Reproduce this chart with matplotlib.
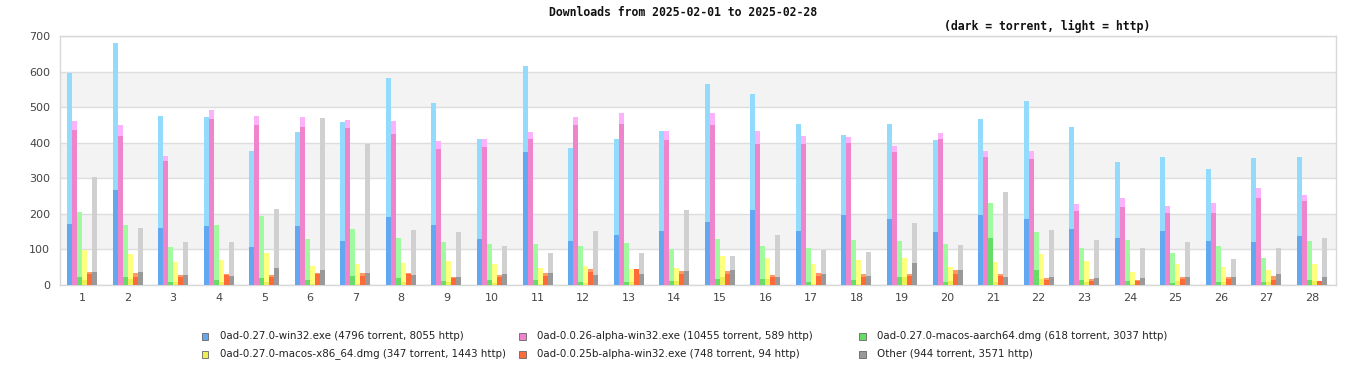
import matplotlib
matplotlib.use("Agg")
import matplotlib.pyplot as plt
from matplotlib.patches import Rectangle
import numpy as np

days = list(range(1, 29))

series_names = [
    "0ad-0.27.0-win32.exe (4796 torrent, 8055 http)",
    "0ad-0.0.26-alpha-win32.exe (10455 torrent, 589 http)",
    "0ad-0.27.0-macos-aarch64.dmg (618 torrent, 3037 http)",
    "0ad-0.27.0-macos-x86_64.dmg (347 torrent, 1443 http)",
    "0ad-0.0.25b-alpha-win32.exe (748 torrent, 94 http)",
    "Other (944 torrent, 3571 http)",
]

win32_torrent = [171, 267, 160, 166, 107, 166, 124, 191, 169, 129, 374, 124, 141, 152,
                 177, 211, 152, 197, 186, 149, 197, 186, 157, 132, 152, 124, 121, 138]
win32_http = [426, 413, 315, 306, 270, 264, 334, 391, 343, 281, 242, 261, 269, 281,
              388, 326, 301, 225, 267, 259, 270, 331, 287, 214, 208, 202, 236, 222]

a26_torrent = [436, 419, 349, 467, 450, 444, 441, 424, 382, 388, 410, 450, 453, 408,
               450, 396, 396, 399, 374, 410, 360, 354, 208, 219, 202, 202, 245, 236]
a26_http = [25, 31, 14, 25, 25, 28, 23, 37, 23, 22, 20, 22, 30, 25,
            33, 37, 23, 17, 17, 17, 17, 23, 20, 26, 20, 28, 28, 17]

arm_torrent = [22, 22, 8, 14, 20, 14, 25, 20, 11, 14, 14, 8, 8, 11,
               17, 17, 8, 14, 22, 8, 132, 42, 14, 11, 6, 8, 8, 14]
arm_http = [183, 147, 99, 155, 174, 115, 132, 112, 110, 101, 101, 102, 110, 90,
            112, 93, 96, 112, 102, 107, 98, 107, 90, 115, 84, 102, 68, 110]

x86_torrent = [14, 17, 8, 8, 8, 3, 3, 8, 8, 6, 3, 6, 8, 11,
               22, 17, 3, 3, 22, 11, 8, 17, 8, 3, 11, 8, 8, 11]
x86_http = [85, 70, 57, 62, 82, 50, 56, 54, 59, 53, 45, 47, 37, 37,
            60, 59, 56, 67, 54, 40, 57, 70, 59, 34, 48, 43, 34, 48]

a25_torrent = [31, 22, 22, 28, 22, 31, 25, 31, 20, 22, 25, 37, 45, 31,
               31, 22, 25, 22, 25, 31, 25, 14, 11, 11, 17, 17, 14, 11]
a25_http = [6, 12, 6, 3, 6, 3, 9, 3, 2, 6, 9, 8, 0, 8,
            8, 6, 9, 9, 6, 11, 6, 6, 6, 3, 5, 5, 11, 0]

other_torrent = [37, 37, 28, 25, 48, 42, 34, 28, 22, 31, 34, 28, 31, 39,
                 42, 22, 31, 25, 62, 42, 22, 22, 20, 20, 22, 22, 31, 22]
other_http = [267, 123, 93, 96, 166, 427, 362, 127, 127, 79, 56, 124, 59, 172,
              40, 119, 67, 68, 112, 70, 239, 133, 106, 84, 99, 51, 73, 110]

y_ticks = [0, 100, 200, 300, 400, 500, 600, 700]

torrents = [win32_torrent, a26_torrent, arm_torrent, x86_torrent, a25_torrent, other_torrent]
https = [win32_http, a26_http, arm_http, x86_http, a25_http, other_http]
dark = ["#62a8f0", "#f084cc", "#66dd66", "#eeee55", "#ff6a3a", "#999999"]
light = ["#93dbfd", "#fbb2fb", "#a0fb9f", "#ffff80", "#ff9966", "#d0d0d0"]

W, H = 1366, 380
fig = plt.figure(figsize=(W / 100, H / 100), dpi=100)
ax = fig.add_axes([60 / W, 1 - 285 / H, 1276 / W, 249 / H])

x = np.array(days, dtype=float)
w = 0.11
n = len(torrents)
for i in range(n):
    xs = x + (i - (n - 1) / 2) * w
    ax.bar(xs, torrents[i], width=w, color=dark[i], linewidth=0, zorder=3)
    ax.bar(xs, https[i], width=w, bottom=torrents[i], color=light[i], linewidth=0, zorder=3)

ax.set_xlim(0.517, 28.527)
ax.set_ylim(0, 700)
for k in range(1, 7, 2):
    ax.axhspan(y_ticks[k], y_ticks[k + 1], color="#f3f3f3", zorder=0, linewidth=0)
ax.set_yticks(y_ticks)
ax.set_xticks(days)
ax.set_xticklabels([str(d) for d in days])
ax.yaxis.grid(True, color="#dddddd", linewidth=1, zorder=1)
ax.set_axisbelow(True)
for s in ax.spines.values():
    s.set_color("#d8d8d8")
    s.set_linewidth(1)
ax.tick_params(axis="both", length=0, labelsize=8, colors="#444444")
ax.tick_params(axis="y", pad=7)
ax.tick_params(axis="x", pad=6)

fig.text(683 / W, 1 - 13 / H, "Downloads from 2025-02-01 to 2025-02-28",
         ha="center", va="center", family="DejaVu Sans Mono", fontsize=8.3,
         fontweight="bold", color="#111111")
fig.text(1047 / W, 1 - 26 / H, "(dark = torrent, light = http)",
         ha="center", va="center", family="DejaVu Sans Mono", fontsize=8.3,
         fontweight="bold", color="#111111")

# legend drawn manually to match the reference's positions
col_x = [205, 522, 862]
row_y = [336, 354]
slots = [(0, 0), (1, 0), (2, 0), (0, 1), (1, 1), (2, 1)]
for i, (c, r) in enumerate(slots):
    cx, cy = col_x[c], row_y[r]
    fig.patches.append(Rectangle(((cx - 3.5) / W, 1 - (cy + 3.5) / H), 7 / W, 7 / H,
                                 transform=fig.transFigure, facecolor=dark[i],
                                 edgecolor="#666666", linewidth=0.6))
    fig.text((cx + 15) / W, 1 - cy / H, series_names[i], ha="left", va="center",
             fontsize=7.4, color="#222222", family="DejaVu Sans")

fig.savefig("out.png", dpi=100)
